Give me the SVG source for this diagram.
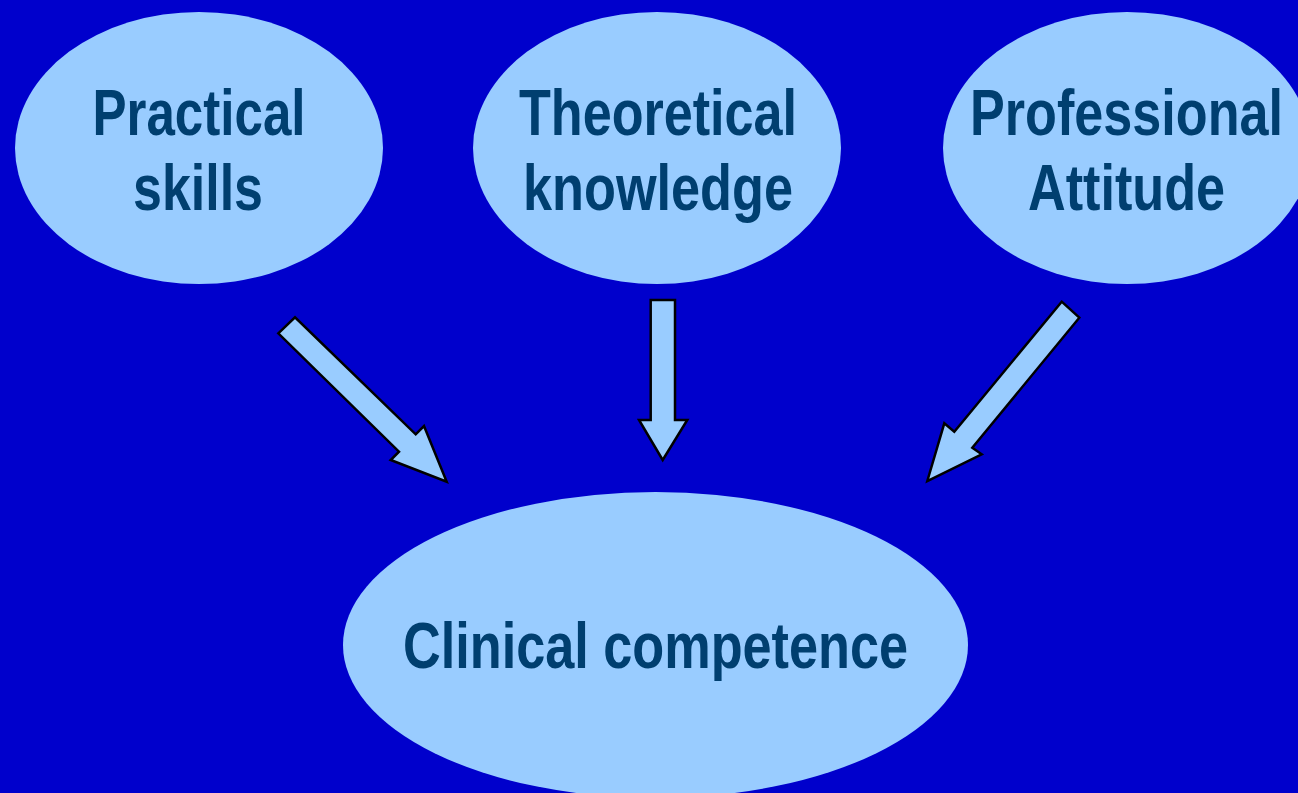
<svg xmlns="http://www.w3.org/2000/svg" width="1298" height="793" viewBox="0 0 1298 793">
<style>
.node{fill:#99CCFF;stroke:none}
.lbl{font-family:"Liberation Sans",Arial,sans-serif;font-weight:bold;font-size:64px;fill:#003F70;text-anchor:middle}
.arr{fill:#99CCFF;stroke:#000;stroke-width:2.5;stroke-linejoin:miter}
</style>
<rect x="0" y="0" width="1298" height="793" fill="#0000CC"/>
<g id="practical">
<ellipse class="node" cx="199" cy="148" rx="184" ry="136"/>
<text class="lbl" x="199" y="135" textLength="213" lengthAdjust="spacingAndGlyphs">Practical</text>
<text class="lbl" x="198" y="210" textLength="130" lengthAdjust="spacingAndGlyphs">skills</text>
</g>
<g id="theoretical">
<ellipse class="node" cx="657" cy="148" rx="184" ry="136"/>
<text class="lbl" x="658" y="135" textLength="278" lengthAdjust="spacingAndGlyphs">Theoretical</text>
<text class="lbl" x="658" y="210" textLength="270" lengthAdjust="spacingAndGlyphs">knowledge</text>
</g>
<g id="professional">
<ellipse class="node" cx="1127" cy="148" rx="184" ry="136"/>
<text class="lbl" x="1126.5" y="135" textLength="313" lengthAdjust="spacingAndGlyphs">Professional</text>
<text class="lbl" x="1126.5" y="210" textLength="197" lengthAdjust="spacingAndGlyphs">Attitude</text>
</g>
<g id="clinical">
<ellipse class="node" cx="655.5" cy="645" rx="312.5" ry="153"/>
<text class="lbl" x="655.5" y="668" textLength="505" lengthAdjust="spacingAndGlyphs">Clinical competence</text>
</g>
<g id="connectors">
<polygon class="arr" points="278.3,333.3 295,317.3 415.7,434.3 424,426 446.7,481.7 390.7,460 399,451.7"/>
<polygon class="arr" points="650.7,300 675,300 675,420 687.3,420 662.7,460 639,420 650.7,420"/>
<polygon class="arr" points="1061.7,301.7 1079.3,317.7 972.3,447.7 981.7,454.3 927.3,481 944.3,423.3 954.3,431.7"/>
</g>
</svg>
